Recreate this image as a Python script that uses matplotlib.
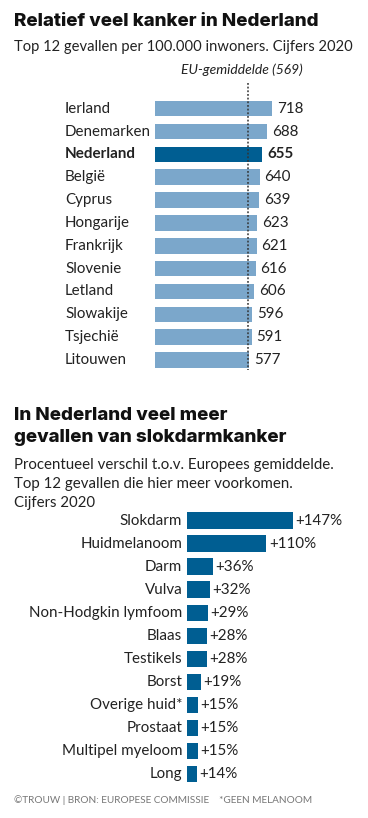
import matplotlib
matplotlib.use('Agg')
import matplotlib.pyplot as plt

plt.rcParams['font.family'] = ['Lato', 'DejaVu Sans']

# --- data ---------------------------------------------------------
landen = ['Ierland', 'Denemarken', 'Nederland', 'België', 'Cyprus',
          'Hongarije', 'Frankrijk', 'Slovenie', 'Letland', 'Slowakije',
          'Tsjechië', 'Litouwen']
gevallen = [718, 688, 655, 640, 639, 623, 621, 616, 606, 596, 591, 577]
eu_gem = 569

soorten = ['Slokdarm', 'Huidmelanoom', 'Darm', 'Vulva',
           'Non-Hodgkin lymfoom', 'Blaas', 'Testikels', 'Borst',
           'Overige huid*', 'Prostaat', 'Multipel myeloom', 'Long']
verschil = [147, 110, 36, 32, 29, 28, 28, 19, 15, 15, 15, 14]

LICHT = '#7ba7cb'
DONKER = '#005e92'
TEKST = '#222222'
KOP = dict(fontsize=13.5, fontweight='heavy', color='#111111', va='center',
           family=['Inter', 'DejaVu Sans'])

W, H = 368, 818
fig = plt.figure(figsize=(W / 100, H / 100), dpi=100)


def ax_px(x0, y0, x1, y1):
    # axes from pixel box (top-left origin)
    return fig.add_axes([x0 / W, 1 - y1 / H, (x1 - x0) / W, (y1 - y0) / H])


def txt(x, y, s, **kw):
    fig.text(x / W, 1 - y / H, s, **kw)


# --- bovenste grafiek ---------------------------------------------
txt(14, 22, 'Relatief veel kanker in Nederland', **KOP)
txt(14, 47, 'Top 12 gevallen per 100.000 inwoners. Cijfers 2020',
    fontsize=10.6, color=TEKST, va='center')

step = 22.85
ax1 = ax_px(155, 108.7 - step / 2, 368, 360 + step / 2)
ax1.set_xlim(0, 213 / 0.1635)
ax1.set_ylim(len(landen) - 0.5, -0.5)
kleuren = [DONKER if l == 'Nederland' else LICHT for l in landen]
ax1.barh(range(len(landen)), gevallen, height=0.68, color=kleuren)
ax1.plot([eu_gem, eu_gem], [-1.13, 11.45], color='#333333', lw=1.1,
         ls=(0, (1.2, 1.2)), clip_on=False)
ax1.annotate('EU-gemiddelde (569)', (eu_gem, -1.7), xytext=(55, 0),
             textcoords='offset pixels', ha='right', va='center',
             fontsize=10, style='italic', color=TEKST,
             annotation_clip=False)
ytr = ax1.get_yaxis_transform()
for i, (l, v) in enumerate(zip(landen, gevallen)):
    vet = 'bold' if l == 'Nederland' else 'normal'
    ax1.text((65 - 155) / 213, i, l, transform=ytr, ha='left', va='center',
             fontsize=10.9, fontweight=vet, color=TEKST)
    ax1.text(v + 30, i, str(v), ha='left', va='center', fontsize=10.9,
             fontweight=vet, color=TEKST)
ax1.axis('off')

# --- onderste grafiek ---------------------------------------------
txt(14, 415, 'In Nederland veel meer', **KOP)
txt(14, 437, 'gevallen van slokdarmkanker', **KOP)
for y, s in [(465, 'Procentueel verschil t.o.v. Europees gemiddelde.'),
             (484, 'Top 12 gevallen die hier meer voorkomen.'),
             (503, 'Cijfers 2020')]:
    txt(14, y, s, fontsize=10.8, color=TEKST, va='center')

step2 = 23.03
ax2 = ax_px(187, 520.7 - step2 / 2, 368, 774 + step2 / 2)
ax2.set_xlim(0, 181 / 0.722)
ax2.set_ylim(len(soorten) - 0.5, -0.5)
ax2.barh(range(len(soorten)), verschil, height=0.72, color=DONKER)
for i, (s, v) in enumerate(zip(soorten, verschil)):
    ax2.text(-6.5, i, s, ha='right', va='center', fontsize=10.9,
             color=TEKST)
    ax2.text(v + 3.5, i, '+%d%%' % v, ha='left', va='center',
             fontsize=10.9, color=TEKST)
ax2.axis('off')

txt(14, 800, '©TROUW | BRON: EUROPESE COMMISSIE    *GEEN MELANOOM',
    fontsize=7.2, color='#777777', va='center')

fig.savefig('out.png', dpi=100)
